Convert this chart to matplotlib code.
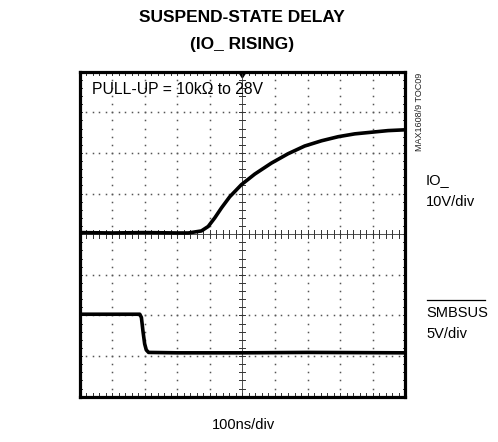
import matplotlib
matplotlib.use("Agg")
import matplotlib.pyplot as plt
from matplotlib.patches import Polygon
import numpy as np

# ---- data (divisions) ----
io_t = [0.0, 1.0, 2.0, 3.0, 3.34, 3.74, 3.95, 4.15, 4.36, 4.61, 4.97, 5.38, 5.89,
        6.40, 6.91, 7.43, 7.94, 8.45, 8.96, 9.47, 10.0]
io_v = [4.04, 4.03, 4.04, 4.03, 4.03, 4.08, 4.19, 4.40, 4.65, 4.92, 5.22, 5.48, 5.75,
        5.98, 6.17, 6.30, 6.40, 6.47, 6.51, 6.55, 6.57]

smb_t = [0.0, 1.0, 1.85, 1.90, 1.95, 2.00, 2.05, 2.12, 3.0, 5.0, 7.0, 10.0]
smb_v = [2.03, 2.03, 2.03, 1.95, 1.60, 1.30, 1.15, 1.09, 1.08, 1.08, 1.09, 1.08]

title_lines = ["SUSPEND-STATE DELAY", "(IO_ RISING)"]
note = "PULL-UP = 10k\u03a9 to 28V"
ch1_labels = ["IO_", "10V/div"]
ch2_labels = ["SMBSUS", "5V/div"]
xlabel = "100ns/div"
side_label = "MAX1608/9 TOC09"

W, H = 498, 442
fig = plt.figure(figsize=(W / 100, H / 100), dpi=100)
L, R, T, B = 79.5, 405.3, 71.7, 396.7
ax = fig.add_axes([L / W, (H - B) / H, (R - L) / W, (B - T) / H])
ax.set_xlim(0, 10)
ax.set_ylim(0, 8)
ax.set_xticks([])
ax.set_yticks([])
for s in ax.spines.values():
    s.set_linewidth(2.3)
    s.set_color("black")

FONT = ["Liberation Sans", "DejaVu Sans"]
grid_c = "#555555"

# dotted grid: dots at every 0.2 division
minor = np.arange(0, 10.01, 0.2)
minor_y = np.arange(0, 8.01, 0.2)
for gx in range(1, 10):
    if gx == 5:
        continue
    ax.plot(np.full_like(minor_y, gx), minor_y, ls="none", marker="s", ms=1.1,
            color=grid_c, mec="none")
for gy in range(1, 8):
    if gy == 4:
        continue
    ax.plot(minor, np.full_like(minor, gy), ls="none", marker="s", ms=1.1,
            color=grid_c, mec="none")

# centre axes with minor ticks
ax.axvline(5, color="#333333", lw=0.6)
ax.axhline(4, color="#333333", lw=0.6)
tx = 0.09
ty = 0.1
for y in minor_y:
    ax.plot([5 - tx, 5 + tx], [y, y], color="#333333", lw=0.7)
for x in minor:
    ax.plot([x, x], [4 - ty, 4 + ty], color="#333333", lw=0.7)
# edge ticks (inward)
for x in minor:
    ax.plot([x, x], [0, 0.08], color="#333333", lw=0.7)
    ax.plot([x, x], [8 - 0.08, 8], color="#333333", lw=0.7)
for y in minor_y:
    ax.plot([0, 0.07], [y, y], color="#333333", lw=0.7)
    ax.plot([10 - 0.07, 10], [y, y], color="#333333", lw=0.7)

# trigger marker at top centre
ax.add_patch(Polygon([[4.88, 8.0], [5.12, 8.0], [5.0, 7.85]], closed=True,
                     color="black", clip_on=False))

# traces
ax.plot(io_t, io_v, color="black", lw=2.6, solid_joinstyle="round")
ax.plot(smb_t, smb_v, color="black", lw=2.6, solid_joinstyle="round")

# texts
fig.text(242 / W, 1 - 18 / H, title_lines[0], ha="center", va="center",
         fontsize=12.5, fontweight="bold", family=FONT)
fig.text(242 / W, 1 - 44 / H, title_lines[1], ha="center", va="center",
         fontsize=12.5, fontweight="bold", family=FONT)
fig.text(92 / W, 1 - 90 / H, note, ha="left", va="center", fontsize=11.3,
         family=FONT)
fig.text(426 / W, 1 - 180 / H, ch1_labels[0], ha="left", va="center",
         fontsize=10.5, family=FONT)
fig.text(426 / W, 1 - 202 / H, ch1_labels[1], ha="left", va="center",
         fontsize=10.5, family=FONT)
fig.text(426 / W, 1 - 313 / H, ch2_labels[0], ha="left", va="center",
         fontsize=10.5, family=FONT)
fig.text(426 / W, 1 - 334 / H, ch2_labels[1], ha="left", va="center",
         fontsize=10.5, family=FONT)
# overline for SMBSUS
fig.add_artist(plt.Line2D([427 / W, 485 / W], [1 - 300 / H, 1 - 300 / H],
                          color="black", lw=0.9, transform=fig.transFigure))
fig.text(243 / W, 1 - 425 / H, xlabel, ha="center", va="center", fontsize=10.5,
         family=FONT)
fig.text(419 / W, 1 - 112 / H, side_label, ha="center", va="center",
         fontsize=6.5, rotation=90, family=FONT, color="#222222")
fig.text(-3 / W, 1 - 112 / H, side_label, ha="center", va="center",
         fontsize=6.5, rotation=90, family=FONT, color="#999999")

fig.savefig("out.png", dpi=100)
